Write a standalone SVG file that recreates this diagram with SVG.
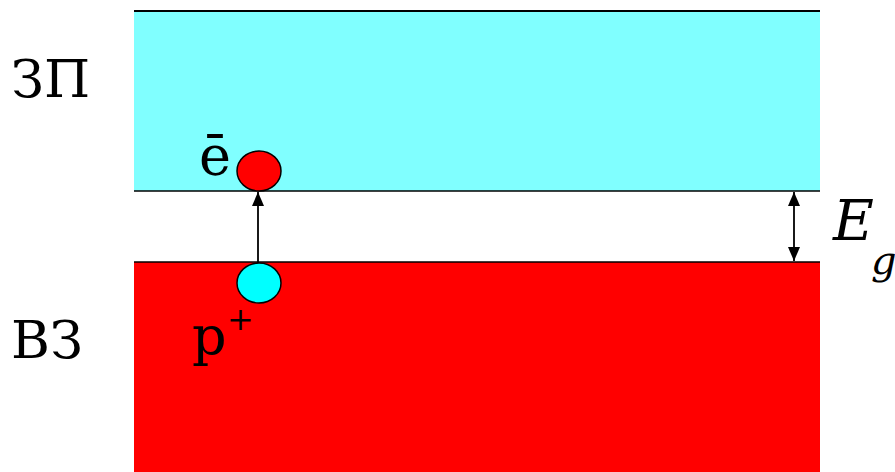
<svg xmlns="http://www.w3.org/2000/svg" width="895" height="472" viewBox="0 0 895 472">
<style>
text{font-family:'DejaVu Serif','Liberation Serif',serif;fill:#000}
.edge{stroke:#000;stroke-width:1.8;fill:none}
</style>
<defs>
<marker id="ah" viewBox="0 0 14 12" refX="14" refY="6" markerWidth="14" markerHeight="12" markerUnits="userSpaceOnUse" orient="auto-start-reverse">
<path d="M0,0 L14,6 L0,12 z" fill="#000"/>
</marker>
</defs>
<rect width="895" height="472" fill="#fff"/>
<g id="conduction-band">
<rect x="134" y="11" width="686" height="180" fill="#80ffff"/>
<line x1="134" y1="11" x2="820" y2="11" stroke="#000" stroke-width="2"/>
<line x1="134" y1="191" x2="820" y2="191" stroke="#000" stroke-width="1.5"/>
</g>
<g id="valence-band">
<rect x="134" y="262" width="686" height="210" fill="#ff0000"/>
<line x1="134" y1="262" x2="820" y2="262" stroke="#000" stroke-width="1.5"/>
</g>
<g id="connectors">
<line class="edge" x1="258" y1="263" x2="258" y2="192" marker-end="url(#ah)"/>
<line class="edge" x1="794" y1="192" x2="794" y2="261" marker-start="url(#ah)" marker-end="url(#ah)"/>
</g>
<g id="electron">
<ellipse cx="259" cy="171" rx="22" ry="20" fill="#ff0000" stroke="#000" stroke-width="1.5"/>
<text x="199" y="175" font-size="54">ē</text>
</g>
<g id="hole">
<ellipse cx="259" cy="283" rx="22" ry="20" fill="#00ffff" stroke="#000" stroke-width="1.5"/>
<text x="192" y="355" font-size="54">p</text>
<text x="227" y="330" font-size="32">+</text>
</g>
<g id="labels">
<text x="833" y="240" font-size="56" font-style="italic">E</text>
<text x="871" y="274" font-size="40" font-style="italic">g</text>
<text x="11" y="97" font-size="53">ЗП</text>
<text x="11" y="358" font-size="53">ВЗ</text>
</g>
</svg>
